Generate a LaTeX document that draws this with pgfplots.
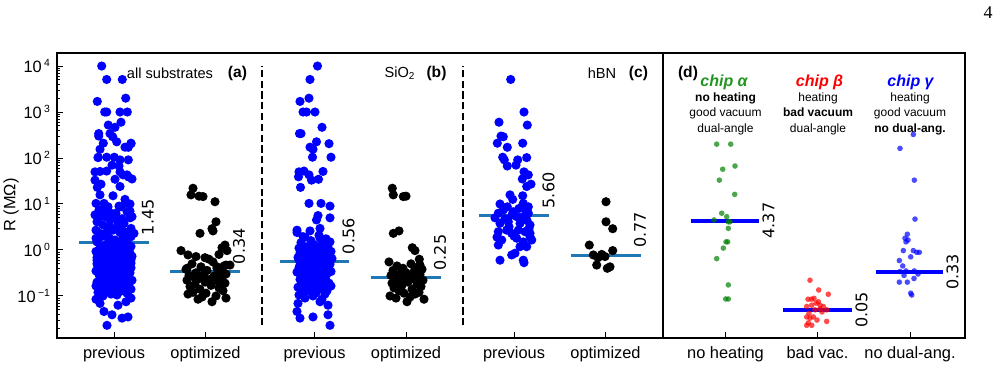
\documentclass[border=0pt]{standalone}
\usepackage{pgfplots}
\pgfplotsset{compat=1.18}
\usepackage{pgfplotstable}
\usepackage{fontspec}
\setmainfont{Liberation Sans}
\newfontfamily\numfont{DejaVu Sans}
\newfontfamily\pagefont{Liberation Serif}

\definecolor{medc}{RGB}{31,119,180}
\definecolor{chipgreen}{RGB}{34,150,34}
\definecolor{dotgreen}{RGB}{0,128,0}

\newcommand{\tenpow}[1]{10\hspace{1.2pt}\raisebox{2.9pt}{\fontsize{5.2}{6}\selectfont #1}}

% columns: xa = jitter position in panel (a), xs = jitter position in own panel, r = resistance (MOhm)
\pgfplotstableread{
xa xs r
101.7 317.5 10000
106.7 310 5100
97.3 300 1700
125.7 309 2000
120 303 1000
127.3 306.5 1000
104.7 315 1000
115 322 465
110 299.5 340
98.7 301 340
116.7 316.5 225
131 329 205
125 310 172
100 313 155
114.3 312.5 104
98.3 331 104
100 323 51
120 299 50
106.7 304 52
128.3 298.5 39
127 309 43
95 311.5 33
115 318.5 34.5
97.3 300.5 23
104 309 10.3
125 321 10.3
119 330 9
102 318 5.6
130 330 5.0
110 316.5 4.5
96 297 2.7
123 310 2.6
108 303 1.95
131 320 2.95
117 300 1.1
99 320 1.8
127 328 1.4
105 323 0.92
120 297 2.4
102 319 2.1
129 305 1.9
110 326 1.75
123 311 1.6
97 330 1.5
115 301 1.45
126 322 1.35
106 314 1.3
131 308 1.2
112 328 1.15
100 299 1.1
121 317 1.05
104 324 1.0
127 303 1.0
108 321 0.98
117 313 0.95
96 331 0.93
124 306 0.9
113 316 0.88
130 300 0.86
105 325 0.84
128 310 0.82
101 327 0.8
114 302 0.78
99 320 0.76
119 307 0.75
132 329 0.73
109 312 0.72
122 323 0.7
97 298 0.69
125 318 0.68
111 304 0.66
129 332 0.65
103 315 0.64
119 309 0.63
107 324 0.62
131 299 0.61
110 318 0.6
126 301 0.59
100 326 0.58
118 308 0.58
114 314 0.57
99 311 0.56
123 328 0.55
106 302 0.54
116 320 0.53
131 307 0.52
109 317 0.51
97 303 0.5
129 330 0.49
102 311 0.48
124 300 0.47
113 324 0.46
120 314 0.45
98 306 0.44
126 321 0.43
104 318 0.42
131 299 0.41
112 325 0.4
100 310 0.39
122 303 0.38
107 329 0.37
127 316 0.36
96 305 0.35
119 331 0.34
109 297 0.33
130 322 0.32
103 309 0.31
117 327 0.3
99 313 0.29
125 301 0.28
111 319 0.27
128 307 0.26
101 324 0.25
121 314 0.24
106 300 0.23
132 326 0.22
115 304 0.21
97 317 0.2
124 310 0.195
112 329 0.19
108 302 0.185
129 321 0.18
102 315 0.175
119 306 0.17
96 331 0.165
126 312 0.16
110 298 0.155
123 323 0.15
100 308 0.145
131 318 0.14
114 301 0.135
105 327 0.13
120 311 0.125
98 304 0.12
127 316 0.115
111 325 0.11
117 299 0.105
103 313 0.1
100 298 0.069
126 320 0.075
118 328 0.063
104 297 0.046
128 313 0.035
112 328 0.039
122 300 0.033
107 330 0.023
131 305 0.09
96 322 0.085
}\bprev

\pgfplotstableread{
xa xs r
122.3 510.7 5100
106.7 524 1000
121 499 600
108.3 527.3 520
98.7 501 300
112.7 503.3 290
103.3 497.3 210
128.3 507.3 171
131 522.7 210
106.7 502.7 104
120 504.3 91
128.3 517.7 91
119 507.3 67
112 516 70
98 526.7 102
95 524 50
123 528.3 43
132 522.3 35
101 531 27
120 526.7 24
100 510 15.8
125 512.7 12.6
113 522.7 15.1
130 500 10
108 507.3 8.7
96 523.3 10.3
121 528.3 8.7
116 498.3 6.3
99 503.3 7.4
127 513.3 6.8
105 516.7 5.3
132 523.3 5.3
111 528.3 6.3
124 500 3.8
97 508.3 4.1
118 520 3.8
103 530 3.5
129 498.3 2.5
113 506.7 2.7
100 511.7 2.3
121 518.3 2.7
107 525 2.5
134 530 2.3
115 501.7 1.65
96 516.7 1.8
126 523.3 1.5
109 531.7 1.65
119 520 1.18
101 526.7 1.18
131 530 1.95
122 505 4.8
95 512 5.8
114 495 5.0
106 519 8.0
130 526 7.0
110 509 3.2
98 527 4.4
123 497 1.9
104 514 2.0
117 529 2.9
128 498.3 1.28
102 515 0.85
120 511.7 0.78
111 500 0.6
97 523.3 0.6
125 524 0.53
}\cprev

\pgfplotstableread{
xa xs r
193 392.3 22
191 393.3 15.8
203 403.3 14.5
199 406 14.8
200 393.3 2.3
213 399 2.6
222 412.3 1.12
181 415 0.97
209 419.3 0.63
226 420 0.47
213 389 0.55
192 411 0.5
224 397 0.45
201 418 0.43
217 403 0.4
186 422 0.38
207 393 0.36
220 414 0.34
196 406 0.32
226 400 0.3
204 420 0.29
189 391 0.28
214 409 0.27
194 416 0.26
222 395 0.25
199 413 0.24
210 405 0.23
187 423 0.22
218 398 0.21
205 408 0.2
225 392 0.19
195 417 0.18
211 402 0.17
190 421 0.16
219 394 0.15
200 412 0.14
223 399 0.13
193 419 0.12
206 404 0.115
188 415 0.11
216 390 0.1
202 410 0.095
226 396 0.09
198 424 0.085
212 407 0.075
}\bopt

\pgfplotstableread{
xa xs r
215 606 11.2
216 606 4.1
212 612.7 2.9
225 589.3 1.28
188 593.3 0.78
219 601.7 0.8
196 605 0.72
227 612.7 0.97
230 596.7 0.47
187 607.3 0.40
217 610 0.43
205 598 0.68
}\copt

\pgfplotstableread{
x r
716.7 200
730.7 200
735 67
722.7 57
719.3 33
734.7 16.2
721.7 6.3
714 4.5
726.7 5.3
728.3 4.1
730 4.1
728.3 2.95
726 1.5
727.7 1.5
723.3 1.1
716.7 0.65
728.3 0.174
725.7 0.086
728.3 0.086
}\chipa

\pgfplotstableread{
x r
810 0.22
818.7 0.135
828.3 0.109
808 0.085
811.5 0.085
814 0.089
818.3 0.075
820 0.063
811.7 0.063
823.3 0.059
806.7 0.059
815 0.050
826.7 0.050
820 0.052
806.7 0.035
813.3 0.035
810 0.033
826.7 0.028
808.3 0.026
811.7 0.023
806.7 0.023
816 0.07
822 0.045
809 0.042
817 0.03
}\chipb

\pgfplotstableread{
x r
913.3 325
900 162
914.3 33
915 4.7
905 1.8
907.3 2.2
906 1.5
908 1.65
903.3 0.97
913.3 0.97
919.3 0.89
910.7 0.71
916.7 0.89
899.3 0.59
902.7 0.45
906 0.35
914.3 0.35
900 0.34
918 0.30
904 0.28
899.3 0.20
907.3 0.20
914 0.24
910.7 0.115
911.7 0.105
}\chipc

\tikzset{
  dots/.style={only marks, color=#1, mark=*, mark size=2.3pt, mark options={fill=#1, draw opacity=0}},
  cdots/.style={only marks, color=#1, mark=*, mark size=1.4pt, mark options={fill=#1, fill opacity=0.7, draw opacity=0}},
  medlab/.style={rotate=90, font=\numfont\fontsize{8}{9}\selectfont, inner sep=1pt},
  sepline/.style={black, line width=1.2pt, dash pattern=on 3.6pt off 1.8pt},
}

\begin{document}
\begin{tikzpicture}
\useasboundingbox (0,0) rectangle (500pt,184.5pt);

\begin{axis}[
  at={(28.5pt,15.5pt)}, anchor=south west,
  scale only axis, width=303pt, height=142.5pt,
  ymode=log, ymin=0.0122, ymax=19200,
  xmin=57, xmax=663,
  tick pos=left, tick align=inside,
  major tick length=2.8pt, minor tick length=1.5pt,
  every tick/.style={black, line width=0.5pt},
  axis line style={line width=0.75pt},
  tick label style={font=\fontsize{8.2}{9}\selectfont},
  xticklabel style={yshift=-1pt},
  xtick={114,205.5,314.5,406,514,605.5},
  xticklabels={previous,optimized,previous,optimized,previous,optimized},
  ytick={0.1,1,10,100,1000,10000},
  yticklabels={\tenpow{−1},\tenpow{0},\tenpow{1},\tenpow{2},\tenpow{3},\tenpow{4}},
  minor ytick={0.02,0.03,0.04,0.05,0.06,0.07,0.08,0.09,0.2,0.3,0.4,0.5,0.6,0.7,0.8,0.9,2,3,4,5,6,7,8,9,20,30,40,50,60,70,80,90,200,300,400,500,600,700,800,900,2000,3000,4000,5000,6000,7000,8000,9000},
  ylabel={R (MΩ)},
  ylabel style={at={(axis description cs:-0.0759,0.467)}, anchor=center, font=\fontsize{8.2}{9}\selectfont},
]
% panel (a): all substrates
\addplot[dots=blue] table[x=xa, y=r] {\bprev};
\addplot[dots=blue] table[x=xa, y=r] {\cprev};
\addplot[dots=black] table[x=xa, y=r] {\bopt};
\addplot[dots=black] table[x=xa, y=r] {\copt};
% panel (b): SiO2
\addplot[dots=blue] table[x=xs, y=r] {\bprev};
\addplot[dots=black] table[x=xs, y=r] {\bopt};
% panel (c): hBN
\addplot[dots=blue] table[x=xs, y=r] {\cprev};
\addplot[dots=black] table[x=xs, y=r] {\copt};
% separators
\addplot[sepline] coordinates {(262,0.023) (262,10000)};
\addplot[sepline] coordinates {(463,0.023) (463,10000)};
% medians
\addplot[medc, line width=1.5pt] coordinates {(79,1.45) (149,1.45)};
\addplot[medc, line width=1.5pt] coordinates {(170,0.34) (240,0.34)};
\addplot[medc, line width=1.5pt] coordinates {(280,0.56) (349,0.56)};
\addplot[medc, line width=1.5pt] coordinates {(371,0.25) (441,0.25)};
\addplot[medc, line width=1.5pt] coordinates {(479,5.60) (549,5.60)};
\addplot[medc, line width=1.5pt] coordinates {(571,0.77) (641,0.77)};
\node[medlab, anchor=west] at ([yshift=2.5pt]axis cs:148,1.45) {1.45};
\node[medlab, anchor=west] at ([yshift=2.5pt]axis cs:239,0.34) {0.34};
\node[medlab, anchor=west] at ([yshift=2.5pt]axis cs:348.5,0.56) {0.56};
\node[medlab, anchor=west] at ([yshift=2.5pt]axis cs:440,0.25) {0.25};
\node[medlab, anchor=west] at ([yshift=2.5pt]axis cs:548.5,5.60) {5.60};
\node[medlab, anchor=west] at ([yshift=2.5pt]axis cs:640,0.77) {0.77};
\end{axis}

\begin{axis}[
  at={(331.5pt,15.5pt)}, anchor=south west,
  scale only axis, width=151pt, height=142.5pt,
  ymode=log, ymin=0.0122, ymax=19200,
  xmin=663, xmax=965,
  tick pos=left, tick align=inside,
  major tick length=2.8pt,
  every tick/.style={black, line width=0.5pt},
  axis line style={line width=0.75pt},
  tick label style={font=\fontsize{8.2}{9}\selectfont},
  xticklabel style={yshift=-1pt},
  xtick={725.5,817.5,910},
  xticklabels={no heating,bad vac.,no dual-ang.},
  ytick={1e-5}, yticklabels={}, yminorticks=false,
]
\addplot[cdots=dotgreen] table[x=x, y=r] {\chipa};
\addplot[cdots=red] table[x=x, y=r] {\chipb};
\addplot[cdots=blue] table[x=x, y=r] {\chipc};
\addplot[blue, line width=2pt] coordinates {(691,4.37) (759,4.37)};
\addplot[blue, line width=2pt] coordinates {(783,0.05) (852,0.05)};
\addplot[blue, line width=2pt] coordinates {(876,0.33) (943,0.33)};
\node[medlab, anchor=north] at ([xshift=0.5pt]axis cs:759,4.37) {4.37};
\node[medlab, anchor=north] at ([xshift=0.5pt]axis cs:852,0.05) {0.05};
\node[medlab, anchor=north] at ([xshift=0.5pt]axis cs:943,0.33) {0.33};
\end{axis}

% panel titles
\node[font=\fontsize{7.3}{8}\selectfont] at (85pt,148pt) {all substrates};
\node[font=\bfseries\fontsize{7.8}{8}\selectfont] at (118.75pt,148pt) {(a)};
\node[font=\fontsize{7.3}{8}\selectfont] at (199.75pt,148pt) {SiO\raisebox{-1.2pt}{\fontsize{5}{5}\selectfont 2}};
\node[font=\bfseries\fontsize{7.8}{8}\selectfont] at (218.25pt,148pt) {(b)};
\node[font=\fontsize{7.3}{8}\selectfont] at (301pt,148pt) {hBN};
\node[font=\bfseries\fontsize{7.8}{8}\selectfont] at (319.25pt,148pt) {(c)};
\node[font=\bfseries\fontsize{7.8}{8}\selectfont] at (344pt,148pt) {(d)};

% chip descriptions
\tikzset{chipt/.style={font=\bfseries\itshape\fontsize{8}{9}\selectfont, inner sep=0pt},
         cond/.style={font=\fontsize{6}{7}\selectfont, text height=0.72em, text depth=0.2em, inner sep=0pt},
         condb/.style={cond, font=\bfseries\fontsize{6}{7}\selectfont}}
\node[chipt, text=chipgreen] at (362pt,143.5pt) {chip α};
\node[condb] at (362.75pt,136.5pt) {no heating};
\node[cond] at (362.75pt,129pt) {good vacuum};
\node[cond] at (362.75pt,121pt) {dual-angle};
\node[chipt, text=red] at (409.75pt,143.5pt) {chip β};
\node[cond] at (409pt,136.5pt) {heating};
\node[condb] at (409pt,129pt) {bad vacuum};
\node[cond] at (409pt,121pt) {dual-angle};
\node[chipt, text=blue] at (455.25pt,143.5pt) {chip γ};
\node[cond] at (455pt,136.5pt) {heating};
\node[cond] at (455pt,129pt) {good vacuum};
\node[condb] at (455pt,121pt) {no dual-ang.};

% page number
\node[font=\pagefont\fontsize{9}{10}\selectfont] at (494pt,178pt) {4};
\end{tikzpicture}
\end{document}
